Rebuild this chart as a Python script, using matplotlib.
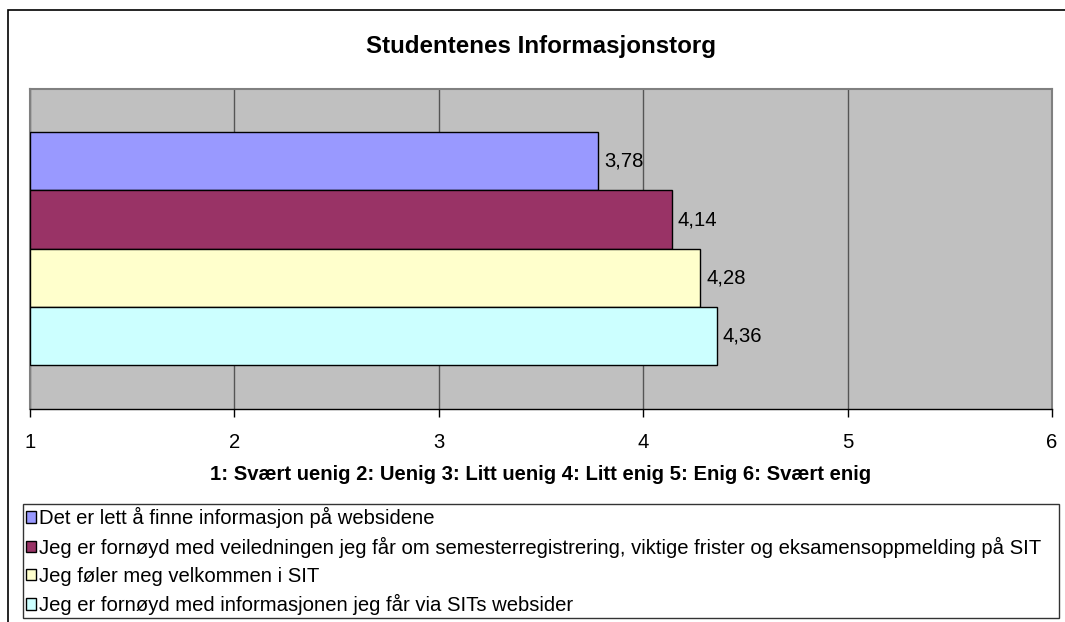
import matplotlib.pyplot as plt
from matplotlib.patches import Patch, Rectangle

plt.rcParams['font.family'] = ['Liberation Sans', 'DejaVu Sans']

title = 'Studentenes Informasjonstorg'
xlabel = '1: Svært uenig 2: Uenig 3: Litt uenig 4: Litt enig 5: Enig 6: Svært enig'
statements = [
    'Det er lett å finne informasjon på websidene',
    'Jeg er fornøyd med veiledningen jeg får om semesterregistrering, viktige frister og eksamensoppmelding på SIT',
    'Jeg føler meg velkommen i SIT',
    'Jeg er fornøyd med informasjonen jeg får via SITs websider',
]
scores = [3.78, 4.14, 4.28, 4.36]
colors = ['#9999FF', '#993366', '#FFFFCC', '#CCFFFF']
xticks = [1, 2, 3, 4, 5, 6]

fs = 14.6

fig = plt.figure(figsize=(10.65, 6.22), dpi=100)
W, H = 1065, 622

# outer chart border (cropped on right and bottom)
fig.patches.append(Rectangle((8 / W, -0.05), 1.2, 1 - 10 / H + 0.05,
                             transform=fig.transFigure, fill=False,
                             edgecolor='black', linewidth=1.2))

ax = fig.add_axes([30 / W, 1 - 409 / H, 1022 / W, 320 / H])
ax.set_facecolor('#C0C0C0')

xmin = xticks[0]
for i, (v, c) in enumerate(zip(scores, colors)):
    ax.barh(i, v - xmin, left=xmin, height=1.0, color=c, edgecolor='black',
            linewidth=1.0, zorder=3)
    ax.text(v + 0.03, i, '{:.2f}'.format(v).replace('.', ','), va='center',
            ha='left', fontsize=fs, zorder=4)

ax.set_xlim(xticks[0], xticks[-1])
ax.set_ylim(len(scores) - 0.5 + 0.75, -0.5 - 0.74)
ax.set_yticks([])
ax.set_xticks(xticks)
ax.set_xticklabels([str(t) for t in xticks], fontsize=fs)
ax.tick_params(axis='x', direction='out', length=6, width=1, pad=11, color='black')
ax.grid(axis='x', color='#555555', linewidth=1, zorder=1)
for side in ('top', 'right', 'left'):
    ax.spines[side].set_color('#808080')
    ax.spines[side].set_linewidth(1.5)
ax.spines['bottom'].set_color('black')
ax.spines['bottom'].set_linewidth(1)

fig.text(541 / W, 1 - 46 / H, title, ha='center', va='center',
         fontsize=17.4, fontweight='bold')
fig.text(541 / W, 1 - 475 / H, xlabel, ha='center', va='center',
         fontsize=fs, fontweight='bold')

handles = [Patch(facecolor=c, edgecolor='black', linewidth=1) for c in colors]
leg = fig.legend(handles, statements, loc='upper left',
                 bbox_to_anchor=(23 / W, 1 - 504 / H, (1059 - 23) / W, 0),
                 mode='expand', ncol=1, fontsize=fs, frameon=True, fancybox=False,
                 handlelength=0.5, handleheight=0.5, handletextpad=0.15,
                 labelspacing=0.43, borderpad=0.15, borderaxespad=0, edgecolor='black')
leg.get_frame().set_linewidth(1)

fig.savefig('out.png', dpi=100, facecolor='white')
